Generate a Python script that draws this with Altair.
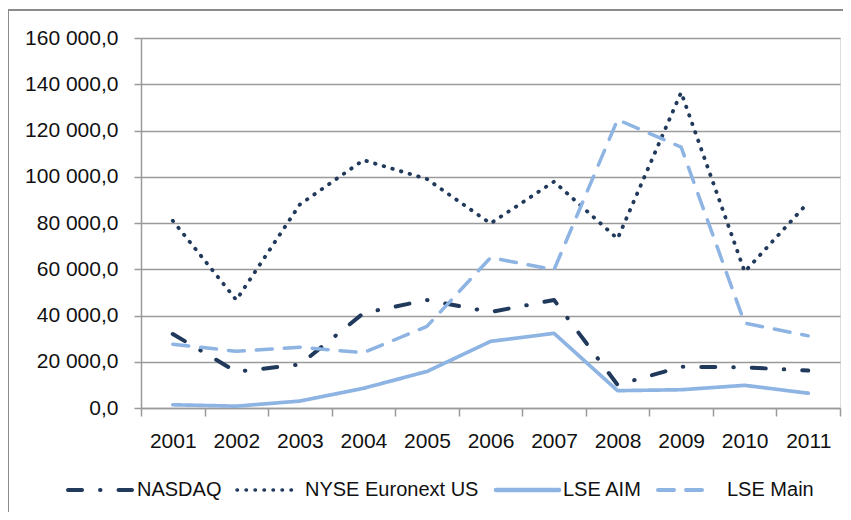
import altair as alt
import pandas as pd

years = ["2001", "2002", "2003", "2004", "2005", "2006", "2007", "2008", "2009", "2010", "2011"]
series = ["NASDAQ", "NYSE Euronext US", "LSE AIM", "LSE Main"]
nasdaq = [32000, 15700, 18800, 41000, 46700, 41500, 46700, 10000, 17800, 17600, 16200]
nyse = [81000, 46700, 88000, 107200, 99000, 79800, 97900, 73200, 136500, 58900, 88900]
lse_aim = [1400, 800, 3000, 8500, 15800, 28800, 32300, 7500, 7900, 9800, 6400]
lse_main = [27600, 24500, 26300, 23900, 35300, 65000, 59800, 124700, 112800, 36700, 31200]

# styles
colors = ["#213A5C", "#213A5C", "#8DB4E2", "#8DB4E2"]
dashes = [[14, 18, 0.5, 18], [0.5, 8.5], [1, 0], [16, 12]]
widths = [4, 3.5, 4.5, 4]

# legend layout (pixels relative to the plot origin)
leg_sym_x = [-73, 96, 355, 517]
leg_sym_len = [64, 60, 63, 50]
leg_lab_x = [-4, 164, 422, 586]
leg_y = 452

rows = []
for name, vals in zip(series, [nasdaq, nyse, lse_aim, lse_main]):
    for y, v in zip(years, vals):
        rows.append({"year": y, "value": v, "series": name, "order": series.index(name)})
df = pd.DataFrame(rows)

FONT = "Liberation Sans"
TXT = "#111111"
GRID = "#9a9a9a"

lines = alt.Chart(df).mark_line(strokeCap="round", strokeJoin="round").encode(
    x=alt.X("year:O", sort=years,
            scale=alt.Scale(type="band", paddingInner=0, paddingOuter=0),
            axis=alt.Axis(title=None, labelAngle=0, tickBand="extent", grid=False,
                          labelFontSize=21, labelFont=FONT, labelColor=TXT,
                          labelPadding=14, tickSize=8, tickColor=GRID, tickWidth=1.5,
                          domainColor=GRID, domainWidth=1.5)),
    y=alt.Y("value:Q", scale=alt.Scale(domain=[0, 160000], nice=False),
            axis=alt.Axis(title=None, values=list(range(0, 160001, 20000)),
                          labelExpr="replace(replace(format(datum.value, ',.1f'), ',', ' '), '.', ',')",
                          labelFontSize=21, labelFont=FONT, labelColor=TXT,
                          labelPadding=16, tickSize=7, tickColor=GRID, tickWidth=1.5,
                          domainColor=GRID, domainWidth=1.5,
                          gridColor=GRID, gridWidth=1.5)),
    color=alt.Color("series:N", sort=series,
                    scale=alt.Scale(domain=series, range=colors), legend=None),
    strokeDash=alt.StrokeDash("series:N", sort=series,
                              scale=alt.Scale(domain=series, range=dashes), legend=None),
    strokeWidth=alt.StrokeWidth("series:N", sort=series,
                                scale=alt.Scale(domain=series, range=widths), legend=None),
    order=alt.Order("order:Q"),
    detail="series:N",
)

one = pd.DataFrame({"a": [0]})

frame = alt.Chart(one).mark_rect(
    fill=None, stroke="#8c8c8c", strokeWidth=2
).encode(
    x=alt.value(-133), x2=alt.value(730), y=alt.value(-28), y2=alt.value(495)
)

legend_layers = []
for i, name in enumerate(series):
    legend_layers.append(
        alt.Chart(one).mark_rule(
            color=colors[i], strokeDash=dashes[i], strokeWidth=widths[i], strokeCap="round"
        ).encode(
            x=alt.value(leg_sym_x[i]), x2=alt.value(leg_sym_x[i] + leg_sym_len[i]),
            y=alt.value(leg_y)
        )
    )
    legend_layers.append(
        alt.Chart(one).mark_text(
            align="left", baseline="middle", fontSize=20, font=FONT, color=TXT
        ).encode(
            x=alt.value(leg_lab_x[i]), y=alt.value(leg_y), text=alt.value(name)
        )
    )

chart = alt.layer(frame, lines, *legend_layers).properties(
    width=699, height=370,
    autosize=alt.AutoSizeParams(type="none"),
    padding={"left": 133, "top": 30, "right": 3, "bottom": 104},
).configure_view(stroke=None).configure(background="white")

chart.save("out.html", embed_options={"renderer": "svg", "actions": False})
